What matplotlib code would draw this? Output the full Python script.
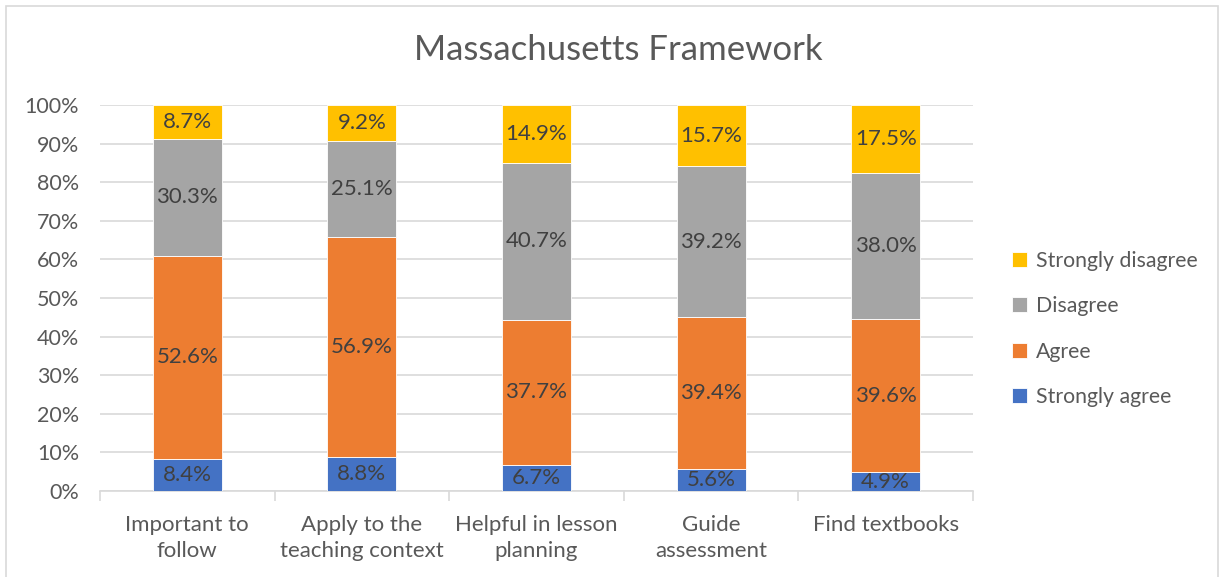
import matplotlib
matplotlib.use("Agg")
import matplotlib.pyplot as plt
from matplotlib.patches import Rectangle
import numpy as np

categories = ["Important to\nfollow", "Apply to the\nteaching context", "Helpful in lesson\nplanning",
              "Guide\nassessment", "Find textbooks"]
series_names = ["Strongly agree", "Agree", "Disagree", "Strongly disagree"]
strongly_agree = [8.4, 8.8, 6.7, 5.6, 4.9]
agree = [52.6, 56.9, 37.7, 39.4, 39.6]
disagree = [30.3, 25.1, 40.7, 39.2, 38.0]
strongly_disagree = [8.7, 9.2, 14.9, 15.7, 17.5]
colors = ["#4472C4", "#ED7D31", "#A5A5A5", "#FFC000"]
yticks = [0, 10, 20, 30, 40, 50, 60, 70, 80, 90, 100]

plt.rcParams['font.family'] = ['Lato', 'DejaVu Sans']
txt = "#595959"

fig = plt.figure(figsize=(12.21, 5.77), dpi=100)
fig.patches.append(Rectangle((6/1221, -0.02), 1212/1221, 1.02 - 6/577, transform=fig.transFigure,
                             fill=False, edgecolor="#D9D9D9", linewidth=1.2))
ax = fig.add_axes([100/1221, 1 - 491/577, 873/1221, 386/577])

data = [strongly_agree, agree, disagree, strongly_disagree]
x = np.arange(len(categories))
bottom = np.zeros(len(categories))
for name, vals, c in zip(series_names, data, colors):
    vals = np.array(vals)
    ax.bar(x, vals, bottom=bottom, width=0.395, color=c, label=name, zorder=3,
           edgecolor="white", linewidth=0.6)
    for xi, b, v in zip(x, bottom, vals):
        ax.text(xi, b + v / 2, f"{v:.1f}%", ha="center", va="center", fontsize=16, color="#404040", zorder=4)
    bottom = bottom + vals

ax.set_xlim(-0.5, len(categories) - 0.5)
ax.set_ylim(0, 100)
ax.set_yticks(yticks)
ax.set_yticklabels([f"{t}%" for t in yticks], fontsize=15.5, color=txt)
ax.yaxis.grid(True, color="#D9D9D9", linewidth=1.2, zorder=0)
ax.tick_params(axis="y", length=0, pad=15)
ax.set_xticks(x)
ax.set_xticklabels(categories, fontsize=16, color=txt, linespacing=1.42)
ax.set_xticks(np.arange(-0.5, len(categories)), minor=True)
ax.tick_params(axis="x", which="major", length=0, pad=17)
ax.tick_params(axis="x", which="minor", length=7, color="#D9D9D9", width=1.2)
for s in ["top", "right", "left"]:
    ax.spines[s].set_visible(False)
ax.spines["bottom"].set_color("#D9D9D9")
ax.spines["bottom"].set_linewidth(1.2)

fig.text(618/1221, 1 - 50/577, "Massachusetts Framework", ha="center", va="center", fontsize=25, color=txt)

handles, labels = ax.get_legend_handles_labels()
leg = fig.legend(handles[::-1], labels[::-1], loc="center left", bbox_to_anchor=(993/1221, 1 - 329/577),
                 frameon=False, fontsize=15.3, handlelength=0.72, handleheight=0.72, handletextpad=0.4,
                 labelspacing=1.2, labelcolor=txt)

fig.savefig("out.png", dpi=100)
